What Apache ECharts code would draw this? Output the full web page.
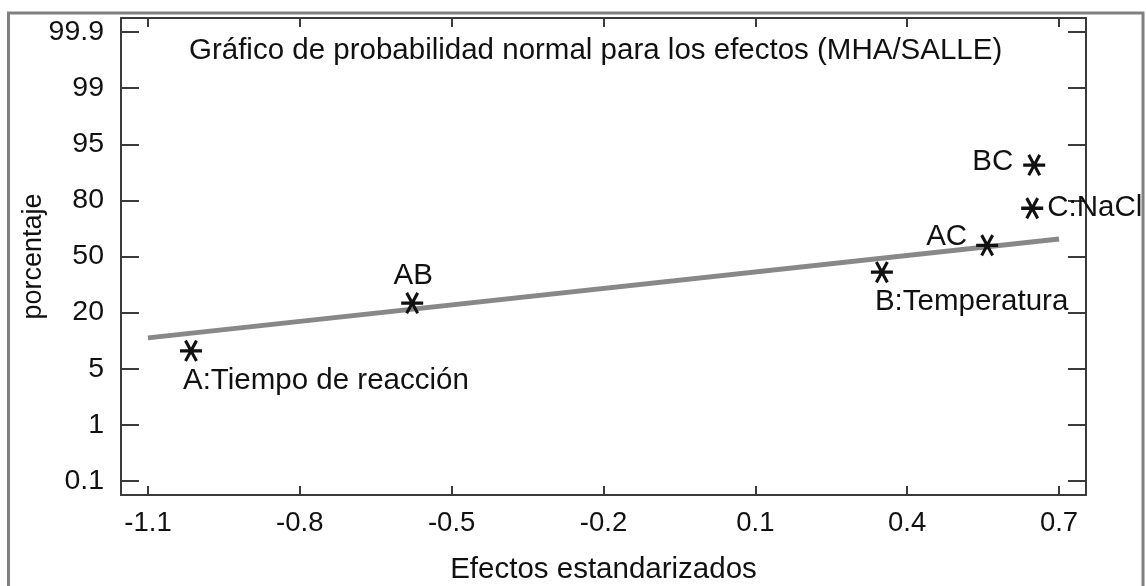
<!DOCTYPE html>
<html>
<head>
<meta charset="utf-8">
<script src="https://cdn.jsdelivr.net/npm/echarts@6/dist/echarts.min.js"></script>
<style>
  html, body { margin: 0; padding: 0; background: #fff; }
  #chart { width: 1146px; height: 586px; }
</style>
</head>
<body>
<div id="chart"></div>
<script>
// Standardized effects and their positions on the probability scale
const effectNames = ['A:Tiempo de reacción', 'AB', 'B:Temperatura', 'AC', 'C:NaCl', 'BC'];
const effectValues = [-1.015, -0.578, 0.350, 0.558, 0.647, 0.651];
const probPositions = [2.32, 3.17, 3.72, 4.20, 4.86, 5.63];

// Reference line endpoints
const lineX = [-1.1, 0.7];
const lineY = [2.55, 4.31];

// Axis ticks
const xTicks = [-1.1, -0.8, -0.5, -0.2, 0.1, 0.4, 0.7];
const yTickLabels = ['0.1', '1', '5', '20', '50', '80', '95', '99', '99.9'];
const yTicks = yTickLabels.map((_, i) => i);

// Label placement around each asterisk
const labelPlacement = {
  'A:Tiempo de reacción': { align: 'left', offset: [-8, 30] },
  'AB': { align: 'center', offset: [1, -27] },
  'B:Temperatura': { align: 'left', offset: [-7, 30] },
  'AC': { align: 'right', offset: [-20, -8] },
  'C:NaCl': { align: 'left', offset: [15, 0] },
  'BC': { align: 'right', offset: [-21, -3] }
};

// Six-armed asterisk marker (horizontal bar plus two diagonals)
const asterisk = 'path://M0,43L100,43L100,57L0,57Z' +
  'M31.06,3.2L81.06,89.8L68.94,96.8L18.94,10.2Z' +
  'M81.06,10.2L31.06,96.8L18.94,89.8L68.94,3.2Z';

const FONT = "'Liberation Sans', Arial, sans-serif";
const TEXT = '#111';
const FRAME = '#3a3a3a';

const chart = echarts.init(document.getElementById('chart'), null, { renderer: 'canvas' });

const xMin = -1.1533, xMax = 0.7533;
const yMin = -0.25, yMax = 8.25;

const baseX = {
  type: 'value', min: xMin, max: xMax,
  splitLine: { show: false },
  axisLine: { show: true, onZero: false, lineStyle: { color: FRAME, width: 2 } },
  axisTick: { show: true, inside: true, length: 9, customValues: xTicks, lineStyle: { color: FRAME, width: 2 } }
};
const baseY = {
  type: 'value', min: yMin, max: yMax,
  splitLine: { show: false },
  axisLine: { show: true, onZero: false, lineStyle: { color: FRAME, width: 2 } },
  axisTick: { show: true, inside: true, length: 18, customValues: yTicks, lineStyle: { color: FRAME, width: 2 } }
};

const points = effectNames.map((name, i) => {
  const p = labelPlacement[name];
  return {
    name: name,
    value: [effectValues[i], probPositions[i]],
    label: {
      show: true,
      position: 'inside',
      align: p.align,
      verticalAlign: 'middle',
      offset: p.offset,
      formatter: name
    }
  };
});

chart.setOption({
  animation: false,
  backgroundColor: '#fff',
  textStyle: { fontFamily: FONT },
  title: {
    text: 'Gráfico de probabilidad normal para los efectos (MHA/SALLE)',
    left: 184, top: 31,
    textStyle: { fontFamily: FONT, fontSize: 29.5, fontWeight: 'normal', color: TEXT }
  },
  grid: {
    left: 121, top: 18, right: 60, bottom: 91,
    containLabel: false, outerBoundsMode: 'none'
  },
  xAxis: [
    Object.assign({}, baseX, {
      position: 'bottom',
      name: 'Efectos estandarizados',
      nameLocation: 'middle',
      nameGap: 60,
      nameTextStyle: { fontFamily: FONT, fontSize: 29.5, color: TEXT },
      axisLabel: {
        show: true, customValues: xTicks, margin: 14,
        fontFamily: FONT, fontSize: 27.5, color: TEXT,
        formatter: v => v.toFixed(1)
      }
    }),
    Object.assign({}, baseX, { position: 'top', axisLabel: { show: false } })
  ],
  yAxis: [
    Object.assign({}, baseY, {
      position: 'left',
      name: 'porcentaje',
      nameLocation: 'middle',
      nameGap: 74,
      nameMoveOverlap: false,
      nameTextStyle: { fontFamily: FONT, fontSize: 27, color: TEXT },
      axisLabel: {
        show: true, customValues: yTicks, margin: 17,
        fontFamily: FONT, fontSize: 28.5, color: TEXT,
        formatter: v => yTickLabels[Math.round(v)]
      }
    }),
    Object.assign({}, baseY, { position: 'right', axisLabel: { show: false } })
  ],
  series: [
    {
      type: 'line',
      data: lineX.map((x, i) => [x, lineY[i]]),
      showSymbol: false,
      symbol: 'none',
      lineStyle: { color: '#888', width: 5 },
      silent: true,
      z: 2
    },
    {
      type: 'scatter',
      data: points,
      symbol: asterisk,
      symbolSize: [22, 22],
      itemStyle: { color: '#111', opacity: 1 },
      label: { fontFamily: FONT, fontSize: 29.5, color: TEXT, textBorderWidth: 0 },
      z: 3
    }
  ],
  graphic: [
    {
      type: 'rect',
      shape: { x: 8.5, y: 13, width: 1134.5, height: 580 },
      style: { fill: 'none', stroke: '#808080', lineWidth: 3 },
      silent: true
    }
  ]
});
</script>
</body>
</html>
